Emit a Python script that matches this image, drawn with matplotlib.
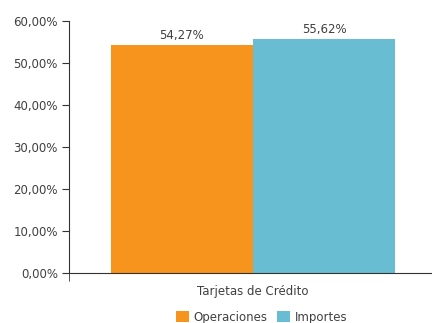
import matplotlib.pyplot as plt
from matplotlib.ticker import FuncFormatter

categoria = ['Tarjetas de Crédito']
series = ['Operaciones', 'Importes']
valores = [54.27, 55.62]
colores = ['#F7941D', '#69BDD2']

plt.rcParams['font.family'] = ['DejaVu Sans']
txt = '#404040'
fs = 8.5

fig = plt.figure(figsize=(4.32, 3.23), dpi=100)
ax = fig.add_axes([0.1597, 0.1548, 0.852, 0.7802])

ancho = 0.386
pos = [-ancho / 2, ancho / 2]
for p, v, c, s in zip(pos, valores, colores, series):
    ax.bar(p, v, width=ancho, color=c, label=s)
    ax.text(p, v + 0.8, ('%.2f%%' % v).replace('.', ','), ha='center', va='bottom',
            fontsize=fs, color=txt)

ax.set_xlim(-0.5, 0.5)
ax.set_ylim(0, 60)
ax.set_yticks(range(0, 61, 10))
ax.yaxis.set_major_formatter(FuncFormatter(lambda y, _: ('%.2f%%' % y).replace('.', ',')))
ax.set_xticks([0])
ax.set_xticklabels(categoria)
ax.set_xticks([-0.5], minor=True)
ax.tick_params(axis='x', which='major', length=0, pad=8.5, labelsize=fs, labelcolor=txt)
ax.tick_params(axis='x', which='minor', length=6, direction='out', color='#333333')
ax.tick_params(axis='y', length=5, direction='out', labelsize=fs, labelcolor=txt, color='#333333', pad=3)

for s in ['top', 'right']:
    ax.spines[s].set_visible(False)
ax.spines['left'].set_color('#333333')
ax.spines['bottom'].set_color('#333333')

fig.legend(loc='lower center', bbox_to_anchor=(0.605, -0.035), ncol=2, frameon=False,
           fontsize=fs, handlelength=1.1, handleheight=1.1, handletextpad=0.4,
           columnspacing=0.8, labelcolor=txt)

fig.savefig('out.png', dpi=100)
